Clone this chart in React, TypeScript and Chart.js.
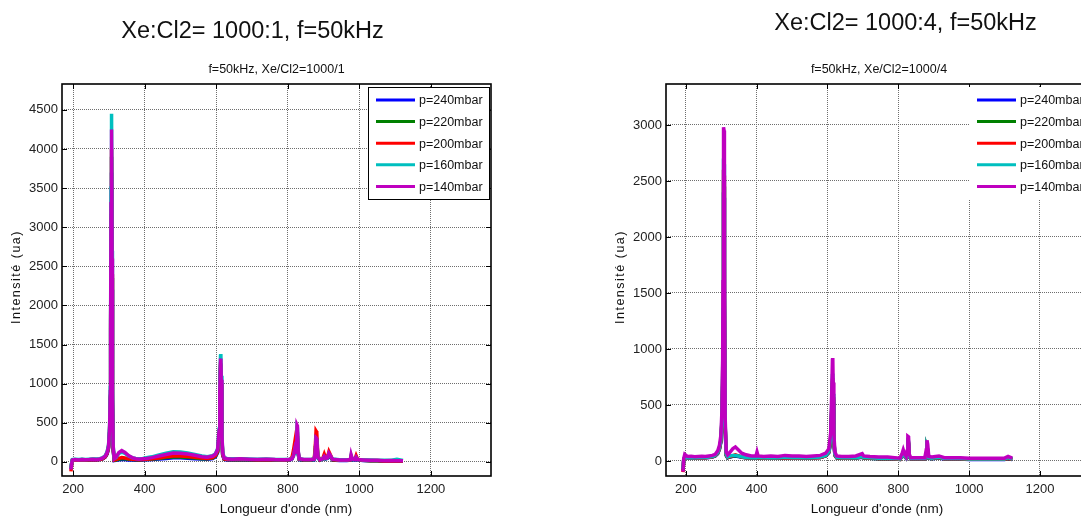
import React, { useEffect, useRef } from "react";
import { Chart, registerables } from "chart.js";

Chart.register(...registerables);

// ---------- data ----------
const seriesLabels = ["p=240mbar", "p=220mbar", "p=200mbar", "p=160mbar", "p=140mbar"];
const seriesColors = ["#0000ff", "#008000", "#ff0000", "#00bfbf", "#bf00bf"];

const xTicks = [200, 400, 600, 800, 1000, 1200];
const yTicksA = [0, 500, 1000, 1500, 2000, 2500, 3000, 3500, 4000, 4500];
const yTicksB = [0, 500, 1000, 1500, 2000, 2500, 3000];

// Xe:Cl2 = 1000:1
const wlA = [
  194, 196, 198, 205, 215, 225, 235, 245, 255, 265,
  275, 283, 290, 295, 299, 302, 304, 305, 306, 307,
  308, 309, 310, 312, 315, 320, 328, 336, 345, 355,
  365, 375, 385, 395, 405, 420, 440, 460, 480, 500,
  520, 540, 560, 575, 590, 598, 604, 608, 610, 612,
  613, 614, 616, 618, 622, 630, 645, 665, 690, 715,
  740, 765, 790, 805, 812, 816, 820, 823, 825, 826,
  827, 829, 832, 845, 865, 874, 877, 879, 881, 884,
  890, 898, 902, 906, 911, 915, 918, 925, 945, 965,
  975, 977, 980, 988, 991, 995, 1010, 1030, 1050, 1070,
  1090, 1105, 1122,
];
const b240A = [
  -90, -18, 18, 24, 20, 26, 22, 24, 28, 26,
  30, 40, 62, 100, 170, 360, 800, 1600, 3000, 3700,
  3650, 2200, 760, 150, 18, 20, 26, 32, 30, 26,
  24, 22, 22, 26, 28, 30, 38, 45, 52, 52,
  48, 42, 36, 34, 42, 65, 120, 320, 780, 1180,
  1200, 950, 300, 90, 34, 26, 24, 28, 24, 22,
  24, 22, 20, 22, 40, 90, 180, 125, 220, 300,
  290, 100, 28, 22, 22, 28, 130, 270, 260, 50,
  22, 35, 65, 38, 45, 90, 70, 24, 18, 18,
  22, 55, 28, 24, 50, 26, 18, 14, 14, 10,
  12, 10, 8,
];
const g220A = [
  -85, -15, 22, 28, 24, 30, 26, 28, 32, 30,
  35, 45, 68, 110, 185, 390, 840, 1700, 3150, 3900,
  3850, 2350, 800, 160, 22, 25, 35, 42, 40, 35,
  30, 28, 26, 30, 32, 36, 45, 55, 62, 62,
  58, 50, 42, 40, 50, 75, 130, 340, 820, 1220,
  1240, 980, 310, 95, 38, 30, 28, 32, 28, 26,
  28, 26, 24, 26, 45, 100, 200, 140, 240, 330,
  320, 110, 32, 26, 26, 32, 150, 300, 290, 60,
  26, 40, 75, 42, 50, 100, 80, 28, 20, 20,
  25, 60, 32, 28, 55, 30, 20, 16, 16, 12,
  14, 12, 10,
];
const r200A = [
  -120, -30, 20, 25, 22, 28, 25, 27, 30, 28,
  32, 42, 65, 105, 180, 380, 820, 1650, 3100, 4000,
  3950, 2400, 820, 170, 25, 30, 45, 55, 50, 40,
  35, 30, 28, 32, 35, 40, 50, 65, 75, 75,
  70, 60, 50, 45, 55, 80, 140, 360, 850, 1250,
  1260, 1000, 320, 100, 40, 32, 30, 35, 30, 28,
  30, 28, 25, 28, 60, 150, 265, 180, 280, 380,
  370, 130, 35, 28, 28, 40, 200, 395, 380, 80,
  28, 50, 100, 50, 60, 130, 100, 30, 22, 22,
  28, 70, 35, 40, 80, 35, 22, 18, 18, 12,
  15, 12, 12,
];
const c160A = [
  -80, -10, 30, 35, 30, 35, 32, 35, 38, 36,
  42, 55, 80, 130, 210, 450, 950, 1900, 3500, 4450,
  4400, 2700, 950, 210, 45, 55, 110, 125, 110, 75,
  55, 45, 40, 45, 55, 65, 90, 110, 130, 128,
  115, 95, 75, 65, 80, 105, 170, 420, 950, 1350,
  1380, 1100, 370, 130, 55, 45, 40, 42, 38, 35,
  38, 32, 30, 32, 42, 75, 160, 110, 230, 440,
  430, 140, 40, 32, 32, 36, 110, 290, 280, 55,
  32, 42, 65, 45, 48, 100, 85, 36, 28, 28,
  32, 80, 40, 30, 55, 32, 28, 25, 22, 20,
  22, 35, 18,
];
const m140A = [
  -98, -20, 25, 30, 25, 32, 28, 30, 35, 32,
  38, 50, 75, 120, 200, 420, 900, 1800, 3300, 4250,
  4200, 2600, 900, 200, 40, 60, 120, 145, 120, 80,
  55, 40, 35, 40, 45, 55, 75, 95, 115, 110,
  100, 85, 65, 60, 75, 100, 160, 400, 900, 1300,
  1320, 1050, 350, 120, 50, 40, 35, 40, 35, 30,
  35, 30, 28, 30, 40, 80, 170, 120, 250, 470,
  460, 150, 40, 30, 30, 35, 120, 310, 300, 60,
  30, 40, 70, 45, 50, 110, 90, 35, 25, 25,
  30, 90, 40, 30, 60, 30, 25, 20, 20, 15,
  18, 15, 15,
];

// Xe:Cl2 = 1000:4
const wlB = [
  192, 194, 197, 205, 215, 225, 235, 245, 255, 265,
  275, 283, 290, 295, 299, 302, 304, 305, 306, 307,
  308, 309, 311, 314, 318, 325, 333, 340, 348, 358,
  370, 385, 398, 401, 404, 420, 440, 460, 480, 500,
  520, 540, 560, 580, 595, 604, 609, 612, 614, 615,
  616, 618, 621, 626, 640, 660, 680, 698, 702, 720,
  745, 770, 790, 805, 811, 814, 818, 822, 825, 827,
  829, 831, 835, 850, 865, 875, 879, 881, 883, 886,
  895, 905, 915, 930, 950, 975, 1000, 1025, 1050, 1075,
  1100, 1110, 1122,
];
const b240B = [
  -80, 6, 34, 26, 28, 26, 28, 30, 28, 31,
  35, 45, 65, 105, 170, 340, 680, 1200, 2000, 2400,
  2350, 1400, 300, 50, 28, 36, 42, 45, 40, 33,
  28, 26, 26, 36, 26, 24, 28, 26, 30, 28,
  28, 26, 28, 30, 44, 75, 170, 430, 680, 700,
  530, 170, 50, 28, 24, 24, 26, 34, 26, 24,
  20, 20, 18, 14, 48, 62, 38, 25, 58, 150,
  145, 38, 18, 18, 18, 18, 55, 110, 90, 25,
  20, 25, 27, 18, 18, 18, 14, 14, 14, 14,
  14, 20, 14,
];
const g220B = [
  -85, 8, 36, 28, 30, 27, 30, 31, 29, 33,
  37, 47, 68, 110, 175, 350, 700, 1250, 2050, 2500,
  2450, 1450, 310, 52, 30, 38, 45, 48, 44, 35,
  29, 27, 27, 38, 27, 25, 29, 27, 31, 29,
  29, 27, 29, 31, 46, 78, 180, 450, 700, 720,
  550, 180, 52, 29, 25, 25, 27, 35, 27, 25,
  21, 21, 19, 14, 50, 65, 40, 26, 60, 160,
  155, 40, 19, 19, 19, 19, 60, 115, 95, 26,
  21, 26, 28, 19, 19, 19, 15, 15, 15, 15,
  15, 22, 15,
];
const r200B = [
  -100, 5, 35, 28, 30, 28, 30, 32, 30, 34,
  38, 48, 70, 112, 180, 360, 720, 1280, 2100, 2600,
  2550, 1500, 320, 55, 32, 40, 48, 55, 45, 36,
  30, 28, 28, 40, 28, 26, 30, 28, 32, 30,
  30, 28, 30, 32, 48, 80, 190, 470, 720, 740,
  570, 190, 55, 30, 26, 26, 28, 38, 28, 26,
  22, 22, 20, 15, 55, 70, 42, 28, 65, 170,
  165, 42, 20, 20, 20, 20, 62, 120, 100, 28,
  22, 28, 30, 20, 20, 20, 16, 16, 16, 16,
  16, 25, 16,
];
const c160B = [
  -70, 10, 40, 30, 32, 30, 32, 34, 32, 36,
  40, 50, 75, 120, 190, 380, 760, 1350, 2200, 2700,
  2650, 1550, 340, 60, 35, 45, 50, 50, 45, 38,
  32, 30, 30, 45, 30, 28, 32, 30, 35, 32,
  32, 30, 32, 35, 50, 85, 200, 500, 760, 780,
  600, 200, 60, 32, 28, 28, 30, 40, 30, 28,
  25, 25, 22, 18, 50, 75, 45, 30, 70, 180,
  175, 45, 22, 22, 22, 22, 65, 125, 105, 30,
  25, 30, 32, 22, 22, 22, 18, 18, 18, 18,
  18, 30, 18,
];
const m140B = [
  -95, 20, 60, 40, 42, 38, 40, 42, 40, 45,
  50, 60, 90, 140, 230, 450, 900, 1600, 2600, 2980,
  2950, 1800, 400, 80, 55, 80, 110, 125, 100, 70,
  55, 45, 45, 80, 45, 40, 45, 40, 50, 45,
  45, 40, 45, 50, 70, 110, 250, 600, 900, 920,
  700, 250, 80, 45, 40, 40, 45, 65, 45, 40,
  35, 35, 30, 25, 70, 100, 60, 40, 90, 220,
  215, 60, 30, 30, 30, 30, 100, 185, 150, 40,
  35, 40, 45, 30, 30, 30, 25, 25, 25, 25,
  25, 40, 25,
];

// ---------- drawing ----------
const FONT = '"Liberation Sans", Arial, Helvetica, sans-serif';
const H = 518;
const GRID = "#6e6e6e";

type PanelProps = {
  wl: number[];
  series: number[][];
  xMin: number;
  xMax: number;
  yMin: number;
  yMax: number;
  yTicks: number[];
  subtitle: string;
  left: number;
  width: number;
  plotLeft: number;
  plotRight: number;
  legendBorder: boolean;
  xTitleX: number;
};

function Panel(p: PanelProps) {
  const ref = useRef<HTMLCanvasElement>(null);

  useEffect(() => {
    const canvas = ref.current;
    if (!canvas) return;

    const datasets = p.series
      .map((vals, i) => ({
        label: seriesLabels[i],
        data: vals.map((v, k) => ({ x: p.wl[k], y: v })),
        borderColor: seriesColors[i],
        backgroundColor: seriesColors[i],
        borderWidth: 3.5,
        pointRadius: 0,
        tension: 0,
        fill: false,
      }))
      .reverse(); // first dataset is drawn on top in Chart.js

    const decor = {
      id: "decor",
      afterDraw(chart: any) {
        const { ctx, chartArea: a, scales } = chart;
        ctx.save();
        // inward tick marks
        ctx.strokeStyle = "#000";
        ctx.lineWidth = 1;
        ctx.beginPath();
        xTicks.forEach((v) => {
          const x = Math.round(scales.x.getPixelForValue(v)) + 0.5;
          ctx.moveTo(x, a.bottom);
          ctx.lineTo(x, a.bottom - 5);
          ctx.moveTo(x, a.top);
          ctx.lineTo(x, a.top + 5);
        });
        p.yTicks.forEach((v) => {
          const y = Math.round(scales.y.getPixelForValue(v)) + 0.5;
          ctx.moveTo(a.left, y);
          ctx.lineTo(a.left + 5, y);
          ctx.moveTo(a.right, y);
          ctx.lineTo(a.right - 5, y);
        });
        ctx.stroke();
        // axes box
        ctx.lineWidth = 1.6;
        ctx.strokeRect(a.left, a.top, a.right - a.left, a.bottom - a.top);

        // legend
        const lx0 = a.right - 123;
        const lx1 = a.right - 2;
        ctx.fillStyle = "#fff";
        ctx.fillRect(lx0, a.top + 3, lx1 - lx0, 112);
        if (p.legendBorder) {
          ctx.lineWidth = 1;
          ctx.strokeStyle = "#000";
          ctx.strokeRect(lx0 + 0.5, a.top + 3.5, lx1 - lx0, 112);
        }
        ctx.font = `12.5px ${FONT}`;
        ctx.textBaseline = "middle";
        ctx.textAlign = "left";
        seriesLabels.forEach((lab, i) => {
          const y = a.top + 16 + i * 21.6;
          ctx.strokeStyle = seriesColors[i];
          ctx.lineWidth = 3;
          ctx.beginPath();
          ctx.moveTo(a.right - 115, y);
          ctx.lineTo(a.right - 76, y);
          ctx.stroke();
          ctx.fillStyle = "#111";
          ctx.fillText(lab, a.right - 72, y + 1);
        });

        // subtitle
        ctx.fillStyle = "#111";
        ctx.font = `12.5px ${FONT}`;
        ctx.textAlign = "center";
        ctx.textBaseline = "alphabetic";
        ctx.fillText(p.subtitle, (a.left + a.right) / 2, 73);

        // x axis title
        ctx.font = `13.5px ${FONT}`;
        ctx.fillText("Longueur d'onde (nm)", p.xTitleX, 513);

        // y axis title
        ctx.save();
        ctx.translate(a.left - 42, 277);
        ctx.rotate(-Math.PI / 2);
        ctx.font = `12.5px ${FONT}`;
        try {
          (ctx as any).letterSpacing = "1.5px";
        } catch (e) {}
        ctx.fillText("Intensité (ua)", 0, 0);
        ctx.restore();

        ctx.restore();
      },
    };

    const tickFont = { family: FONT, size: 13 };

    const chart = new Chart(canvas, {
      type: "line",
      data: { datasets: datasets as any },
      options: {
        responsive: false,
        animation: false,
        devicePixelRatio: 1,
        layout: { padding: { left: 0, right: p.width - p.plotRight, top: 84, bottom: 0 } },
        plugins: {
          legend: { display: false },
          tooltip: { enabled: false },
          title: { display: false },
        },
        scales: {
          x: {
            type: "linear",
            min: p.xMin,
            max: p.xMax,
            afterBuildTicks: (s: any) => {
              s.ticks = xTicks.map((v) => ({ value: v }));
            },
            afterFit: (s: any) => {
              s.height = H - 476;
            },
            grid: { color: GRID, lineWidth: 1, drawTicks: false },
            border: { display: false, dash: [1, 1] },
            ticks: {
              font: tickFont,
              color: "#222",
              padding: 6,
              maxRotation: 0,
              autoSkip: false,
              callback: (v: any) => String(v),
            },
          },
          y: {
            type: "linear",
            min: p.yMin,
            max: p.yMax,
            afterBuildTicks: (s: any) => {
              s.ticks = p.yTicks.map((v) => ({ value: v }));
            },
            afterFit: (s: any) => {
              s.width = p.plotLeft;
            },
            grid: { color: GRID, lineWidth: 1, drawTicks: false },
            border: { display: false, dash: [1, 1] },
            ticks: {
              font: tickFont,
              color: "#222",
              padding: 4,
              autoSkip: false,
              callback: (v: any) => String(v),
            },
          },
        },
      } as any,
      plugins: [decor],
    });

    return () => chart.destroy();
  }, []);

  return (
    <canvas
      ref={ref}
      width={p.width}
      height={H}
      style={{ position: "absolute", left: p.left, top: 0, width: p.width, height: H }}
    />
  );
}

const titleStyle: React.CSSProperties = {
  position: "absolute",
  fontFamily: FONT,
  fontSize: 23.5,
  lineHeight: "23.5px",
  whiteSpace: "nowrap",
  color: "#111",
  transform: "translateX(-50%)",
};

export default function App() {
  return (
    <div
      style={{
        position: "fixed",
        left: 0,
        top: 0,
        width: 1081,
        height: 518,
        overflow: "hidden",
        background: "#fff",
      }}
    >
      <Panel
        wl={wlA}
        series={[b240A, g220A, r200A, c160A, m140A]}
        xMin={169}
        xMax={1368}
        yMin={-180}
        yMax={4830}
        yTicks={yTicksA}
        subtitle="f=50kHz, Xe/Cl2=1000/1"
        left={0}
        width={540}
        plotLeft={62}
        plotRight={491}
        legendBorder={true}
        xTitleX={286}
      />
      <Panel
        wl={wlB}
        series={[b240B, g220B, r200B, c160B, m140B]}
        xMin={144}
        xMax={1347}
        yMin={-134}
        yMax={3366}
        yTicks={yTicksB}
        subtitle="f=50kHz, Xe/Cl2=1000/4"
        left={600}
        width={520}
        plotLeft={66}
        plotRight={492}
        legendBorder={false}
        xTitleX={277}
      />
      <div style={{ ...titleStyle, left: 252.5, top: 18.5 }}>Xe:Cl2= 1000:1, f=50kHz</div>
      <div style={{ ...titleStyle, left: 905.5, top: 10.5 }}>Xe:Cl2= 1000:4, f=50kHz</div>
    </div>
  );
}
